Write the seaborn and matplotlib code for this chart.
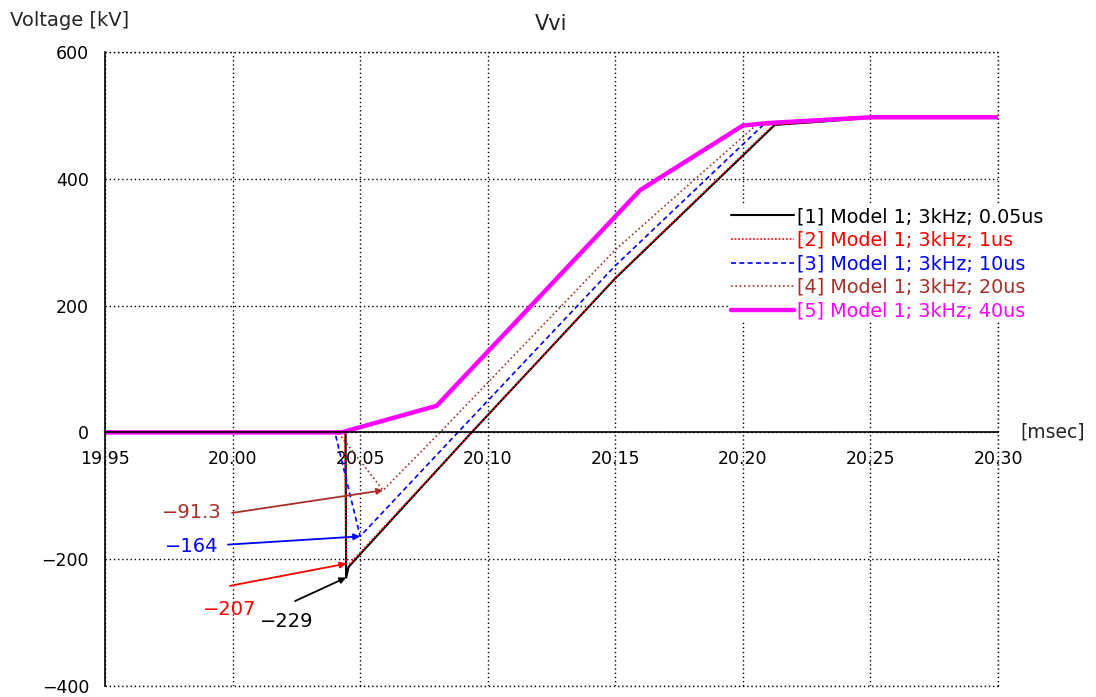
import numpy as np
import pandas as pd
import matplotlib
matplotlib.use("Agg")
import matplotlib.pyplot as plt
import seaborn as sns

# Time axis in msec, voltage in kV
t1 = [19.95, 20.0443, 20.0445, 20.0455, 20.0937, 20.15, 20.2125, 20.23, 20.25, 20.30]
v1 = [0, 0, -229, -212, 0, 243, 485, 490, 496, 497]

t2 = [19.95, 20.0440, 20.0446, 20.0460, 20.0937, 20.15, 20.2120, 20.23, 20.25, 20.30]
v2 = [0, 0, -207, -207, 0, 244, 485, 490, 496, 497]

t3 = [19.95, 20.0401, 20.0500, 20.0883, 20.15, 20.2080, 20.23, 20.25, 20.30]
v3 = [0, 0, -164, 0, 263, 485, 492, 497, 497]

t4 = [19.95, 20.0413, 20.0590, 20.0813, 20.15, 20.2050, 20.23, 20.25, 20.30]
v4 = [0, 0, -91.3, 0, 288, 484, 491, 497, 497]

t5 = [19.95, 20.0427, 20.0800, 20.1597, 20.2000, 20.2100, 20.2500, 20.3000]
v5 = [0, 0, 42, 382, 484, 488, 497, 497]

labels = ["[1] Model 1; 3kHz; 0.05us",
          "[2] Model 1; 3kHz; 1us",
          "[3] Model 1; 3kHz; 10us",
          "[4] Model 1; 3kHz; 20us",
          "[5] Model 1; 3kHz; 40us"]

x_ticks = [19.95, 20.00, 20.05, 20.10, 20.15, 20.20, 20.25, 20.30]
y_ticks = [-400, -200, 0, 200, 400, 600]

# Minimum values called out with arrows: (value text, series index)
callouts = [("\u221291.3", 3), ("\u2212164", 2), ("\u2212207", 1), ("\u2212229", 0)]

sns.set_theme(style="white")
plt.rcParams["font.family"] = ["DejaVu Sans"]

fig = plt.figure(figsize=(10.96, 6.97), dpi=100)
ax = fig.add_axes([0.0958, 0.0158, 0.8148, 0.9096])

series = [(t1, v1), (t2, v2), (t3, v3), (t4, v4), (t5, v5)]
colors = ["black", "#ff0000", "#0000ff", "#a5302a", "#ff00ff"]
styles = ["-", (0, (1, 1.2)), (0, (3, 2)), (0, (1, 1.6)), "-"]
widths = [1.5, 1.2, 1.2, 1.2, 3.2]

for (t, v), lab, c, ls, lw in zip(series, labels, colors, styles, widths):
    df = pd.DataFrame({"t": t, "v": v})
    sns.lineplot(data=df, x="t", y="v", ax=ax, color=c, linestyle=ls,
                 linewidth=lw, label=lab, estimator=None, sort=False)

ax.set_xlim(19.95, 20.30)
ax.set_ylim(-400, 600)
ax.set_xticks(x_ticks)
ax.set_xticklabels([f"{x:.2f}" for x in x_ticks])
ax.set_yticks(y_ticks)
ax.set_xlabel("")
ax.set_ylabel("")

# Axis frame: left spine plus an x-axis running through zero
ax.spines["top"].set_visible(False)
ax.spines["right"].set_visible(False)
ax.spines["left"].set_color("black")
ax.spines["left"].set_linewidth(1.2)
ax.spines["bottom"].set_position(("data", 0))
ax.spines["bottom"].set_color("black")
ax.spines["bottom"].set_linewidth(1.2)
ax.tick_params(axis="both", direction="out", length=8, width=1.2,
               color="black", labelsize=12.5, labelcolor="black")
ax.tick_params(axis="x", pad=5)

ax.grid(True, color="black", linestyle=(0, (1, 2)), linewidth=1.0)
ax.set_axisbelow(True)
# Dotted border lines on the top, right and bottom edges
ax.axhline(600, color="black", linestyle=(0, (1, 2)), linewidth=1.0, clip_on=False)
ax.axvline(20.30, color="black", linestyle=(0, (1, 2)), linewidth=1.0, clip_on=False)
ax.axhline(-400, color="black", linestyle=(0, (1, 2)), linewidth=1.0, clip_on=False)

ax.set_title("Vvi", fontsize=15, pad=16, color="#222222")
fig.text(0.009, 0.970, "Voltage [kV]", fontsize=14, ha="left", va="center")
ax.annotate("[msec]", xy=(20.30, 0), xytext=(16, 0), textcoords="offset points",
            ha="left", va="center", fontsize=13.5)

# Arrow callouts for the minimum of each series
text_pos = {3: (19.9958, -127, "right"), 2: (19.9943, -180, "right"),
            1: (19.9990, -280, "center"), 0: (20.0213, -299, "center")}
arrow_start = {3: (19.9998, -127), 2: (19.9982, -177),
               1: (19.9990, -242), 0: (20.0245, -266)}
for txt, i in callouts:
    t, v = series[i]
    k = int(np.argmin(v))
    tip = (t[k], v[k])
    ax.annotate("", xy=tip, xytext=arrow_start[i],
                arrowprops=dict(arrowstyle="-|>", color=colors[i], lw=1.3,
                                mutation_scale=9, shrinkA=0, shrinkB=0))
    tx, ty, ha = text_pos[i]
    ax.text(tx, ty, txt, color=colors[i], fontsize=14, ha=ha, va="center")

# Legend on an opaque white box so the grid does not show through it
leg = ax.legend(loc="upper left", bbox_to_anchor=(0.699, 0.7585), frameon=True,
                fancybox=False, fontsize=13.8, handlelength=3.3,
                handletextpad=0.15, labelspacing=0.24, borderpad=0.1,
                borderaxespad=0)
leg.get_frame().set_facecolor("white")
leg.get_frame().set_edgecolor("none")
leg.get_frame().set_alpha(1.0)
for text, c in zip(leg.get_texts(), colors):
    text.set_color(c)

fig.savefig("out.png", dpi=100)
